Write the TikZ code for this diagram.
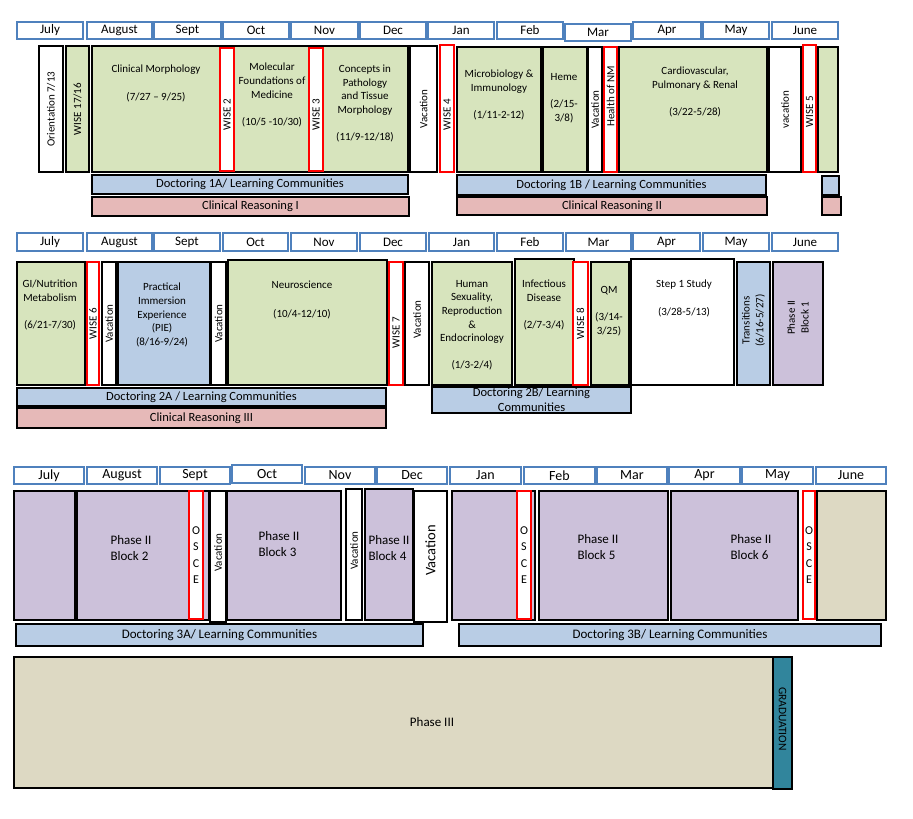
\documentclass[tikz,border=0pt]{standalone}
\usepackage{fontspec}
\setmainfont{Carlito}
\usepackage{tikz}
\usetikzlibrary{calc}
\definecolor{monthblue}{HTML}{4F81BD}
\definecolor{olivefill}{HTML}{D7E4BD}
\definecolor{bluefill}{HTML}{B9CDE5}
\definecolor{pinkfill}{HTML}{E6B9B8}
\definecolor{purpfill}{HTML}{CCC1DA}
\definecolor{beigefill}{HTML}{DDD9C3}
\definecolor{tealfill}{HTML}{31859C}
\tikzset{%
  month/.style={draw=monthblue,fill=white,line width=1.2pt,inner sep=0pt,font=\fontsize{13}{15}\selectfont},
  bigmonth/.style={month,font=\fontsize{14}{16}\selectfont},
  blk/.style={draw=black,line width=1.6pt,inner sep=0pt},
  grn/.style={blk,fill=olivefill},
  wht/.style={blk,fill=white},
  blu/.style={blk,fill=bluefill},
  prp/.style={blk,fill=purpfill},
  bge/.style={blk,fill=beigefill},
  wise/.style={draw=red,fill=white,line width=1.3pt,inner sep=0pt},
  bar/.style={blk,line width=1.4pt,align=center,font=\fontsize{12.5}{15}\selectfont},
  txt/.style={inner sep=0pt,align=center,font=\fontsize{11}{13.6}\selectfont},
  vtxt/.style={txt,rotate=90},
  ptxt/.style={inner sep=0pt,align=left,font=\fontsize{13}{16}\selectfont},
  osce/.style={inner sep=0pt,align=center,font=\fontsize{12}{16.5}\selectfont}
}
% box from corner (x1,y1) to (x2,y2), picture units
\newcommand\crsbox[7]{\node[#1,minimum width={(#5-#3)*1pt},minimum height={(#6-#4)*1pt}] (#2) at ({(#3+#5)/2},{(#4+#6)/2}) {#7};}

\begin{document}
\begin{tikzpicture}[x=1pt,y=-1pt]
  \useasboundingbox (0,0) rectangle (913,819);
  % first year
  \crsbox{month}{jul1}{17}{22}{83}{39}{July}
  \crsbox{month}{aug1}{87}{22}{152}{39}{August}
  \crsbox{month}{sep1}{154}{22}{221}{39}{Sept}
  \crsbox{month}{oct1}{223}{22}{289}{39}{Oct}
  \crsbox{month}{nov1}{291}{22}{358}{39}{Nov}
  \crsbox{month}{dec1}{360}{22}{426}{39}{Dec}
  \crsbox{month}{jan1}{428}{22}{494}{39}{Jan}
  \crsbox{month}{feb1}{497}{22}{563}{39}{Feb}
  \crsbox{month}{mar1}{565}{24}{631}{41}{Mar}
  \crsbox{month}{apr1}{633}{22}{701}{39}{Apr}
  \crsbox{month}{may1}{703}{22}{769}{39}{May}
  \crsbox{month}{jun1}{772}{22}{838}{39}{June}
  \crsbox{wht}{orient}{39}{46}{63}{172}{}
  \crsbox{grn}{wise1}{66}{46}{89}{172}{}
  \crsbox{grn}{phase1a}{92}{46}{408}{172}{}
  \crsbox{wise}{wise2}{220}{48}{234}{171}{}
  \crsbox{wise}{wise3}{309}{48}{323}{171}{}
  \crsbox{wht}{vac1}{410}{46}{437}{172}{}
  \crsbox{wise}{wise4}{440}{45}{454}{172}{}
  \crsbox{grn}{micro}{457}{47}{541}{172}{}
  \crsbox{grn}{heme}{543}{47}{587}{172}{}
  \crsbox{wht}{vac2}{588}{47}{602}{172}{}
  \crsbox{wise}{hnm}{604}{47}{617}{172}{}
  \crsbox{grn}{cardio}{619}{47}{767}{172}{}
  \crsbox{wht}{vac3}{769}{47}{801}{172}{}
  \crsbox{wise}{wise5}{803}{45}{816}{172}{}
  \crsbox{grn}{endyr1}{818}{47}{838}{172}{}
  \node[vtxt] at (orient) {Orientation 7/13};
  \node[vtxt] at (wise1) {WISE 17/16};
  \node[vtxt] at ($(wise2)+(0,5)$) {WISE 2};
  \node[vtxt] at ($(wise3)+(0,5)$) {WISE 3};
  \node[vtxt] at (vac1) {Vacation};
  \node[vtxt] at ($(wise4)+(0,6)$) {WISE 4};
  \node[vtxt] at (vac2) {Vacation};
  \node[vtxt] at ($(hnm)+(0,-13)$) {Health of NM};
  \node[vtxt] at (vac3) {vacation};
  \node[vtxt] at ($(wise5)+(0,3)$) {WISE 5};
  \node[txt,anchor=north] (cmtxt) at (156,65) {Clinical Morphology\\[13.6pt](7/27 -- 9/25)};
  \node[txt,anchor=north] (mftxt) at (272,63) {Molecular\\Foundations of\\Medicine\\[13.6pt](10/5 -10/30)};
  \node[txt,anchor=north] (cptxt) at (365,65) {Concepts in\\Pathology\\and Tissue\\Morphology\\[13.6pt](11/9-12/18)};
  \node[txt,anchor=north] (mitxt) at (499,70) {Microbiology \&\\Immunology\\[13.6pt](1/11-2-12)};
  \node[txt,anchor=north] (hetxt) at (564,73) {Heme\\[13.6pt](2/15-\\3/8)};
  \node[txt,anchor=north] (cvtxt) at (695,67) {Cardiovascular,\\Pulmonary \& Renal\\[13.6pt](3/22-5/28)};
  \crsbox{bar,fill=bluefill}{doc1a}{92}{175}{408}{194}{Doctoring 1A/ Learning Communities}
  \crsbox{bar,fill=pinkfill}{cr1}{92}{197}{409}{216}{Clinical Reasoning I}
  \crsbox{bar,fill=bluefill}{doc1b}{457}{175}{766}{195}{Doctoring 1B / Learning Communities}
  \crsbox{bar,fill=pinkfill}{cr2}{457}{197}{767}{215}{Clinical Reasoning II}
  \crsbox{bar,fill=bluefill}{doc1c}{822}{176}{839}{195}{}
  \crsbox{bar,fill=pinkfill}{cr2b}{822}{197}{841}{215}{}
  % second year
  \crsbox{month}{jul2}{17}{233}{83}{251}{July}
  \crsbox{month}{aug2}{87}{233}{152}{251}{August}
  \crsbox{month}{sep2}{154}{233}{220}{251}{Sept}
  \crsbox{month}{oct2}{223}{233}{288}{251}{Oct}
  \crsbox{month}{nov2}{291}{233}{357}{251}{Nov}
  \crsbox{month}{dec2}{360}{233}{426}{251}{Dec}
  \crsbox{month}{jan2}{429}{233}{494}{251}{Jan}
  \crsbox{month}{feb2}{497}{233}{563}{251}{Feb}
  \crsbox{month}{mar2}{566}{233}{631}{251}{Mar}
  \crsbox{month}{apr2}{633}{233}{700}{251}{Apr}
  \crsbox{month}{may2}{703}{233}{769}{251}{May}
  \crsbox{month}{jun2}{772}{233}{838}{251}{June}
  \crsbox{grn}{gi}{17}{262}{85}{385}{}
  \crsbox{wise}{wise6}{87}{262}{99}{385}{}
  \crsbox{wht}{vac4}{102}{262}{116}{385}{}
  \crsbox{blu}{pie}{118}{262}{210}{385}{}
  \crsbox{wht}{vac5}{211}{262}{226}{385}{}
  \crsbox{grn}{neuro}{228}{260}{387}{385}{}
  \crsbox{wise}{wise7}{389}{262}{403}{385}{}
  \crsbox{wht}{vac6}{405}{262}{429}{385}{}
  \crsbox{grn}{hsre}{432}{262}{512}{385}{}
  \crsbox{grn}{infect}{515}{259}{574}{385}{}
  \crsbox{wise}{wise8}{573}{262}{588}{385}{}
  \crsbox{grn}{qm}{591}{262}{629}{385}{}
  \crsbox{wht}{step1}{631}{259}{734}{385}{}
  \crsbox{blu}{trans}{737}{262}{770}{385}{}
  \crsbox{prp}{blockone}{773}{262}{823}{385}{}
  \node[vtxt] at (wise6) {WISE 6};
  \node[vtxt] at (vac4) {Vacation};
  \node[vtxt] at (vac5) {Vacation};
  \node[vtxt] at ($(wise7)+(0,9)$) {WISE 7};
  \node[vtxt] at ($(vac6)+(0,-4)$) {Vacation};
  \node[vtxt] at (wise8) {WISE 8};
  \node[vtxt] at ($(trans)+(0,-3)$) {Transitions\\(6/16-5/27)};
  \node[vtxt] at ($(blockone)+(0,-6)$) {Phase II\\Block 1};
  \node[txt,anchor=north] (gitxt) at (50,280) {GI/Nutrition\\Metabolism\\[13.6pt](6/21-7/30)};
  \node[txt,anchor=north] (pietxt) at (162,283) {Practical\\Immersion\\Experience\\(PIE)\\(8/16-9/24)};
  \node[txt,anchor=north] (netxt) at (302,281) {Neuroscience\\[15pt](10/4-12/10)};
  \node[txt,anchor=north] (hstxt) at (472,280) {Human\\Sexuality,\\Reproduction\\\&\\Endocrinology\\[13.6pt](1/3-2/4)};
  \node[txt,anchor=north] (idtxt) at (544,280) {Infectious\\Disease\\[13.6pt](2/7-3/4)};
  \node[txt,anchor=north] (qmtxt) at (609,286) {QM\\[13.6pt](3/14-\\3/25)};
  \node[txt,anchor=north] (sttxt) at (684,280) {Step 1 Study\\[14pt](3/28-5/13)};
  \crsbox{bar,fill=bluefill}{doc2a}{17}{388}{386}{406}{Doctoring 2A / Learning Communities}
  \crsbox{bar,fill=pinkfill}{cr3}{17}{408}{386}{428}{Clinical Reasoning III}
  \crsbox{bar,fill=bluefill}{doc2b}{432}{387}{631}{413}{Doctoring 2B/ Learning\\Communities}
  % third and fourth year
  \crsbox{bigmonth}{jul3}{14}{467}{84}{484}{July}
  \crsbox{bigmonth}{aug3}{87}{467}{157}{484}{August}
  \crsbox{bigmonth}{sep3}{160}{467}{230}{484}{Sept}
  \crsbox{bigmonth}{oct3}{232}{465}{302}{483}{Oct}
  \crsbox{bigmonth}{nov3}{305}{467}{375}{484}{Nov}
  \crsbox{bigmonth}{dec3}{377}{467}{447}{484}{Dec}
  \crsbox{bigmonth}{jan3}{450}{467}{521}{484}{Jan}
  \crsbox{bigmonth}{feb3}{524}{467}{595}{484}{Feb}
  \crsbox{bigmonth}{mar3}{597}{467}{667}{484}{Mar}
  \crsbox{bigmonth}{apr3}{669}{467}{740}{484}{Apr}
  \crsbox{bigmonth}{may3}{742}{467}{813}{484}{May}
  \crsbox{bigmonth}{jun3}{816}{467}{886}{484}{June}
  \crsbox{prp}{blockonec}{14}{491}{75}{620}{}
  \crsbox{prp}{blocktwo}{77}{491}{209}{620}{}
  \crsbox{wise}{osce1}{189}{491}{203}{619}{}
  \crsbox{wht}{vac7}{210}{491}{226}{622}{}
  \crsbox{prp}{blockthree}{227}{491}{341}{620}{}
  \crsbox{wht}{vac8}{346}{489}{362}{620}{}
  \crsbox{prp}{blockfour}{365}{489}{413}{620}{}
  \crsbox{wht}{vac9}{414}{491}{447}{622}{}
  \crsbox{prp}{blockfourc}{452}{491}{535}{620}{}
  \crsbox{wise}{osce2}{517}{491}{531}{619}{}
  \crsbox{prp}{blockfive}{539}{491}{668}{620}{}
  \crsbox{prp}{blocksix}{671}{491}{798}{620}{}
  \crsbox{wise}{osce3}{803}{491}{815}{619}{}
  \crsbox{bge}{phasethreea}{817}{491}{886}{620}{}
  \node[osce] at (osce1) {O\\S\\C\\E};
  \node[osce] at (osce2) {O\\S\\C\\E};
  \node[osce] at (osce3) {O\\S\\C\\E};
  \node[vtxt] at ($(vac7)+(0,-4)$) {Vacation};
  \node[vtxt] at ($(vac8)+(0,-4)$) {Vacation};
  \node[vtxt,font=\fontsize{14.5}{16}\selectfont] at ($(vac9)+(0,-6)$) {Vacation};
  \node[ptxt] at ($(blocktwo)+(-12,-7.5)$) {Phase II\\Block 2};
  \node[ptxt] at ($(blockthree)+(-5,-11)$) {Phase II\\Block 3};
  \node[ptxt] at ($(blockfour)+(0,-6.5)$) {Phase II\\Block 4};
  \node[ptxt] at ($(blockfive)+(-5.5,-8.5)$) {Phase II\\Block 5};
  \node[ptxt] at ($(blocksix)+(16.5,-8.5)$) {Phase II\\Block 6};
  \crsbox{bar,fill=bluefill,font=\fontsize{13}{15}\selectfont}{doc3a}{16}{624}{423}{646}{Doctoring 3A/ Learning Communities}
  \crsbox{bar,fill=bluefill,font=\fontsize{13}{15}\selectfont}{doc3b}{459}{624}{881}{646}{Doctoring 3B/ Learning Communities}
  \crsbox{bge}{phasethree}{14}{657}{773}{788}{}
  \crsbox{blk,fill=tealfill}{grad}{773}{657}{792}{789}{}
  \node[ptxt] at ($(phasethree)+(38.5,0)$) {Phase III};
  \node[txt,rotate=-90,font=\fontsize{11.5}{13}\selectfont] at ($(grad)+(0,-4)$) {GRADUATION};
\end{tikzpicture}
\end{document}
